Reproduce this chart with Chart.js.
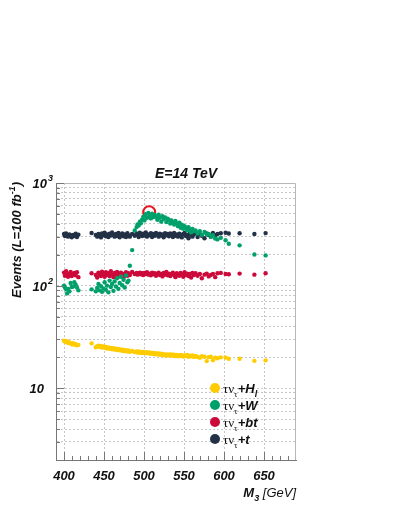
<!DOCTYPE html>
<html>
<head>
<meta charset="utf-8">
<script src="https://cdn.jsdelivr.net/npm/chart.js@4.4.0/dist/chart.umd.min.js"></script>
<style>
html, body { margin: 0; padding: 0; background: #fff; }
#wrap { width: 399px; height: 516px; position: relative; }
</style>
</head>
<body>
<div id="wrap"><canvas id="events-graph"></canvas></div>
<script>
// M3 scan points [GeV], shared by all four channels
var massM3 = [
	400.0, 401.2, 402.6, 403.9, 405.1, 406.8, 408.3, 409.7, 411.4, 412.9,
	414.6, 416.2, 418.0, 434.5, 439.8, 441.5, 443.1, 444.6, 446.2, 447.5,
	449.3, 450.8, 452.4, 453.7, 455.5, 457.0, 458.6, 460.1, 461.8, 463.2,
	464.9, 466.3, 468.0, 469.6, 471.1, 472.8, 474.4, 475.9, 477.5, 479.2,
	480.6, 482.3, 485.2, 488.4, 490.7, 491.9, 493.3, 494.8, 496.1, 497.6,
	499.0, 500.6, 502.2, 503.7, 505.4, 507.0, 508.6, 510.1, 511.8, 513.4,
	515.0, 516.7, 518.3, 519.8, 521.5, 523.1, 524.6, 526.3, 527.9, 529.5,
	531.2, 532.8, 534.4, 536.1, 537.6, 539.3, 541.0, 542.5, 544.2, 545.8,
	547.3, 549.1, 550.7, 552.4, 554.0, 555.6, 557.3, 558.9, 560.6, 562.4,
	564.5, 567.0, 569.8, 572.3, 575.6, 578.4, 580.9, 583.5, 586.2, 589.0,
	591.8, 596.0, 602.0, 606.0, 619.5, 638.0, 652.0
];

// events for L = 100 fb^-1
var eventsHl = [
	29.0, 28.6, 28.2, 28.8, 27.6, 27.9, 27.3, 26.8, 27.5, 26.6,
	26.9, 26.2, 26.5, 27.4, 25.1, 25.6, 26.0, 25.3, 25.8, 24.9,
	25.6, 24.8, 25.2, 24.4, 25.0, 24.2, 24.7, 24.0, 24.5, 23.8,
	24.3, 23.6, 24.1, 23.4, 23.9, 23.2, 23.7, 23.0, 23.5, 22.8,
	23.3, 22.7, 23.1, 22.5, 22.9, 22.3, 22.8, 22.2, 22.6, 22.0,
	22.6, 22.1, 22.5, 21.9, 22.4, 21.8, 22.2, 21.7, 22.1, 21.5,
	21.9, 21.4, 21.8, 21.2, 21.7, 21.1, 21.5, 20.9, 21.4, 20.8,
	21.4, 20.9, 21.3, 20.7, 21.2, 20.6, 21.1, 20.5, 21.0, 20.6,
	21.0, 20.4, 20.9, 20.6, 21.1, 20.3, 20.8, 20.5, 20.9, 20.2,
	20.6, 20.2, 19.8, 20.5, 20.3, 18.4, 20.1, 20.3, 18.8, 19.9,
	19.6, 20.0, 19.9, 19.4, 19.4, 18.5, 18.7
];
var eventsW = [
	100, 96, 92, 84, 93, 88, 106, 97, 98, 108,
	102, 96, 90, 92, 88, 95, 104, 90, 99, 87,
	94, 108, 91, 100, 86, 112, 97, 104, 89, 110,
	98, 118, 93, 106, 122, 101, 114, 96, 126, 108,
	112, 156, 222, 345, 372, 395, 385, 420, 405, 440,
	468, 432, 496, 458, 510, 478, 452, 502, 466, 488,
	470, 438, 490, 458, 420, 476, 445, 462, 416, 448,
	436, 402, 432, 412, 394, 426, 405, 380, 410, 366,
	392, 358, 380, 366, 346, 372, 352, 330, 356, 340,
	344, 322, 340, 312, 334, 316, 318, 300, 310, 288,
	282, 292, 277, 256, 247, 201, 197
];
var eventsBt = [
	134, 125, 138, 128, 122, 131, 136, 124, 129, 133,
	126, 135, 121, 132, 127, 120, 134, 129, 124, 137,
	130, 122, 135, 127, 132, 124, 138, 128, 121, 133,
	126, 136, 129, 123, 134, 131, 120, 128, 135, 125,
	132, 127, 136, 130, 133, 128, 131, 134, 129, 132,
	127, 133, 130, 135, 128, 131, 126, 134, 129, 132,
	125, 131, 134, 127, 130, 123, 133, 128, 136, 126,
	131, 124, 129, 134, 127, 121, 132, 128, 125, 133,
	129, 122, 135, 127, 131, 124, 130, 120, 133, 127,
	132, 125, 130, 118, 128, 131, 123, 127, 130, 121,
	132, 133, 130, 129, 131, 128, 132
];
var eventsT = [
	318, 305, 322, 310, 300, 316, 308, 296, 312, 304,
	320, 298, 314, 326, 312, 300, 318, 306, 295, 322,
	310, 328, 302, 315, 297, 320, 308, 330, 312, 300,
	318, 305, 326, 296, 314, 322, 303, 316, 298, 325,
	310, 300, 318, 306, 322, 312, 298, 328, 315, 305,
	320, 308, 330, 300, 316, 310, 324, 298, 318, 306,
	326, 312, 300, 320, 308, 316, 296, 324, 310, 318,
	302, 322, 312, 298, 326, 306, 316, 300, 320, 310,
	295, 318, 326, 304, 312, 290, 322, 308, 300, 316,
	328, 298, 318, 306, 290, 322, 312, 300, 326, 310,
	318, 324, 328, 322, 324, 318, 325
];

// highlighted point (red ring)
var markedM3 = [506.5];
var markedEvents = [518];

// axis ticks
var xTickValues = [400, 450, 500, 550, 600, 650];
var xTickLabels = ['400', '450', '500', '550', '600', '650'];
var yTickValues = [10, 100, 1000];
var yTickExponents = ['', '2', '3'];

var legendTails = ['H', 'W', 'bt', 't'];
var legendTailSubs = ['l', '', '', ''];

function pairs(xs, ys) {
	return xs.map(function(x, i) { return {x: x, y: ys[i]}; });
}

var BI = 'italic bold 13px "Liberation Sans"';
var BI_SMALL = 'italic bold 9px "Liberation Sans"';
var SERIF = '13px "Liberation Serif"';
var SERIF_SMALL = '9px "Liberation Serif"';

function partsWidth(ctx, parts) {
	var w = 0;
	parts.forEach(function(p) { ctx.font = p.font; w += ctx.measureText(p.text).width; });
	return w;
}
function drawParts(ctx, parts, x, y) {
	parts.forEach(function(p) {
		ctx.font = p.font;
		ctx.fillText(p.text, x, y + (p.dy || 0));
		x += ctx.measureText(p.text).width;
	});
}

var rootFrame = {
	id: 'rootFrame',
	afterDraw: function(chart) {
		var ctx = chart.ctx, a = chart.chartArea;
		var xs = chart.scales.x, ys = chart.scales.y;
		var i, px, py;
		ctx.save();

		// top / right frame
		ctx.strokeStyle = '#b8b8b8';
		ctx.lineWidth = 1;
		ctx.beginPath();
		ctx.moveTo(a.left, a.top + 0.5);
		ctx.lineTo(a.right - 0.5, a.top + 0.5);
		ctx.lineTo(a.right - 0.5, a.bottom);
		ctx.stroke();

		// inside tick marks
		ctx.strokeStyle = '#777';
		ctx.beginPath();
		for (i = 400; i <= 680; i += 10) {
			px = Math.round(xs.getPixelForValue(i)) + 0.5;
			ctx.moveTo(px, a.bottom);
			ctx.lineTo(px, a.bottom - (i % 50 === 0 ? 8 : 4));
		}
		ys.ticks.forEach(function(t) {
			py = Math.round(ys.getPixelForValue(t.value)) + 0.5;
			var major = yTickValues.indexOf(t.value) >= 0;
			ctx.moveTo(a.left, py);
			ctx.lineTo(a.left + (major ? 8 : 4), py);
		});
		ctx.stroke();

		ctx.fillStyle = '#111';
		ctx.textBaseline = 'alphabetic';

		// x tick labels
		ctx.font = BI;
		ctx.textAlign = 'center';
		xTickValues.forEach(function(v, k) {
			ctx.fillText(xTickLabels[k], xs.getPixelForValue(v), a.bottom + 20);
		});

		// y tick labels
		yTickValues.forEach(function(v, k) {
			py = ys.getPixelForValue(v) + 5;
			ctx.textAlign = 'right';
			ctx.font = BI;
			if (yTickExponents[k]) {
				ctx.fillText('10', a.left - 9, py);
				ctx.textAlign = 'left';
				ctx.font = BI_SMALL;
				ctx.fillText(yTickExponents[k], a.left - 8, py - 7);
			} else {
				ctx.fillText('10', a.left - 12, py);
			}
		});
		ctx.textAlign = 'left';

		// title
		ctx.font = 'italic bold 14px "Liberation Sans"';
		ctx.textAlign = 'center';
		ctx.fillText('E=14 TeV', 186, 178);
		ctx.textAlign = 'left';

		// x title
		var xt = [
			{text: 'M', font: BI},
			{text: '3', font: BI_SMALL, dy: 4},
			{text: ' [GeV]', font: 'italic 13px "Liberation Sans"'}
		];
		drawParts(ctx, xt, a.right - partsWidth(ctx, xt), 497);

		// y title
		var yt = [
			{text: 'Events (L=100 fb', font: BI},
			{text: '-1', font: BI_SMALL, dy: -6},
			{text: ')', font: BI}
		];
		ctx.save();
		ctx.translate(21, 240);
		ctx.rotate(-Math.PI / 2);
		drawParts(ctx, yt, -partsWidth(ctx, yt) / 2, 0);
		ctx.restore();

		// legend
		chart.data.datasets.slice(0, 4).forEach(function(ds, k) {
			var cy = 388 + k * 17;
			ctx.fillStyle = ds.backgroundColor;
			ctx.beginPath();
			ctx.arc(215, cy, 5, 0, Math.PI * 2);
			ctx.fill();
			ctx.fillStyle = '#111';
			var parts = [
				{text: '\u03c4\u03bd', font: SERIF},
				{text: '\u03c4', font: SERIF_SMALL, dy: 4},
				{text: '+' + legendTails[k], font: BI}
			];
			if (legendTailSubs[k]) parts.push({text: legendTailSubs[k], font: BI_SMALL, dy: 4});
			drawParts(ctx, parts, 223, cy + 5);
		});

		ctx.restore();
	}
};

function series(label, ys, color) {
	return {
		label: label,
		data: pairs(massM3, ys),
		backgroundColor: color,
		borderWidth: 0,
		pointRadius: 2.2,
		pointHoverRadius: 2.2
	};
}

var yGridValues = [];
[1, 10, 100].forEach(function(d) {
	for (var k = (d === 1 ? 2 : 1); k <= 9; k++) yGridValues.push(k * d);
});
yGridValues.push(1000);

var ctx = document.getElementById('events-graph').getContext('2d');
var eventsChart = new Chart(ctx, {
	type: 'scatter',
	data: {
		datasets: [
			series('\u03c4\u03bd\u03c4+Hl', eventsHl, '#ffcc00'),
			series('\u03c4\u03bd\u03c4+W', eventsW, '#00a06b'),
			series('\u03c4\u03bd\u03c4+bt', eventsBt, '#cc0a3a'),
			series('\u03c4\u03bd\u03c4+t', eventsT, '#223146'),
			{
				label: 'marked',
				data: pairs(markedM3, markedEvents),
				backgroundColor: 'rgba(0,0,0,0)',
				borderColor: '#e8141c',
				borderWidth: 2,
				pointRadius: 6,
				pointHoverRadius: 6
			}
		]
	},
	options: {
		responsive: true,
		maintainAspectRatio: false,
		animation: false,
		events: [],
		layout: { padding: { left: 56, right: 103, top: 183, bottom: 56 } },
		plugins: {
			legend: { display: false },
			tooltip: { enabled: false },
			title: { display: false }
		},
		scales: {
			x: {
				type: 'linear',
				min: 390,
				max: 690,
				afterBuildTicks: function(s) { s.ticks = xTickValues.map(function(v) { return {value: v}; }); },
				ticks: { display: false },
				grid: { color: '#c6c6c6', lineWidth: 1, drawTicks: false },
				border: { display: true, color: '#777', width: 1, dash: [2, 2] }
			},
			y: {
				type: 'logarithmic',
				min: 2,
				max: 1000,
				afterBuildTicks: function(s) { s.ticks = yGridValues.map(function(v) { return {value: v}; }); },
				ticks: { display: false },
				grid: { color: '#c6c6c6', lineWidth: 1, drawTicks: false },
				border: { display: true, color: '#777', width: 1, dash: [2, 2] }
			}
		}
	},
	plugins: [rootFrame]
});
</script>
</body>
</html>
